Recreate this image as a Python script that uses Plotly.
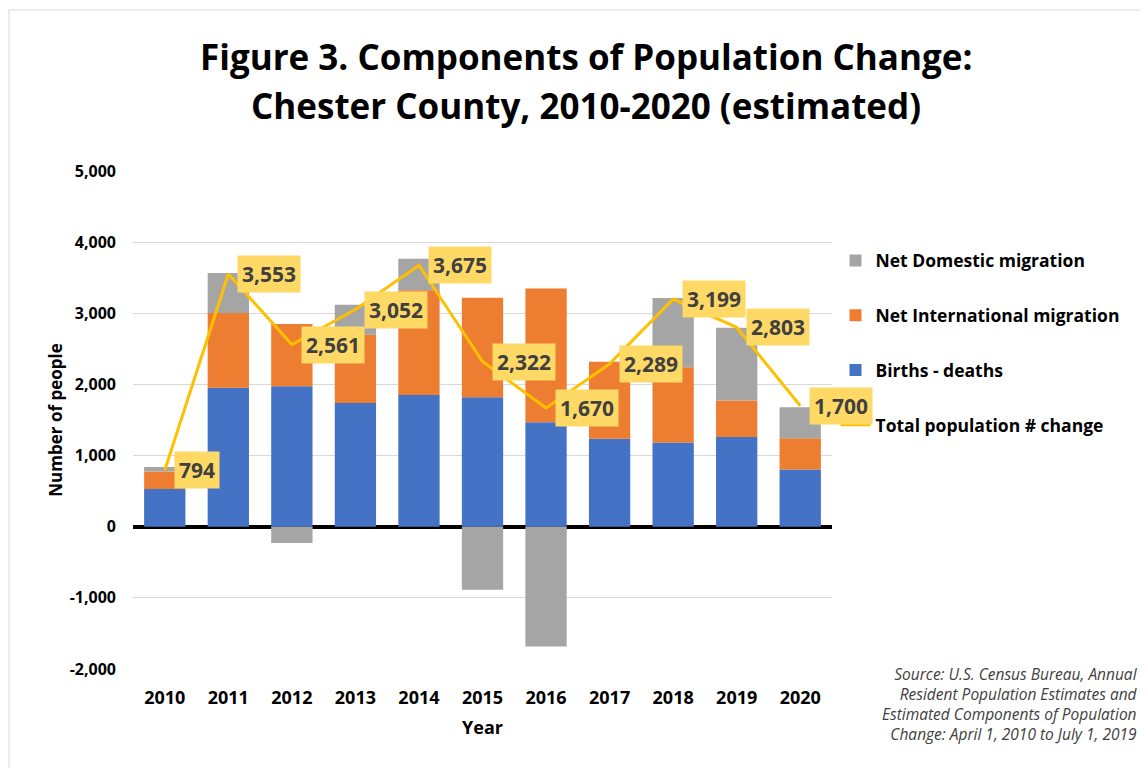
import plotly.graph_objects as go

years = [2010, 2011, 2012, 2013, 2014, 2015, 2016, 2017, 2018, 2019, 2020]
births_deaths = [530, 1955, 1975, 1740, 1850, 1820, 1470, 1235, 1185, 1260, 805]
net_international = [245, 1050, 875, 960, 1475, 1400, 1880, 1085, 1055, 515, 440]
net_domestic = [65, 560, -230, 420, 440, -885, -1685, 0, 975, 1020, 435]
total_change = [794, 3553, 2561, 3052, 3675, 2322, 1670, 2289, 3199, 2803, 1700]
y_ticks = [-2000, -1000, 0, 1000, 2000, 3000, 4000, 5000]
y_tick_labels = ["-2,000", "-1,000", "0", "1,000", "2,000", "3,000", "4,000", "5,000"]
title_lines = ["Figure 3. Components of Population Change:", "Chester County, 2010-2020 (estimated)"]
source_text = ("Source: U.S. Census Bureau, Annual<br>Resident Population Estimates and<br>"
               "Estimated Components of Population<br>Change: April 1, 2010 to July 1, 2019")

FONT = "Open Sans"
BLUE = "#4472C4"
ORANGE = "#ED7D31"
GRAY = "#A5A5A5"
GOLD = "#FFC000"
LABEL_BG = "#FFD966"

fig = go.Figure()
fig.add_trace(go.Bar(x=years, y=births_deaths, name="Births - deaths",
                     marker=dict(color=BLUE, line=dict(width=0)), legendrank=3, legendgroup="c"))
fig.add_trace(go.Bar(x=years, y=net_international, name="Net International migration",
                     marker=dict(color=ORANGE, line=dict(width=0)), legendrank=2, legendgroup="b"))
fig.add_trace(go.Bar(x=years, y=net_domestic, name="Net Domestic migration",
                     marker=dict(color=GRAY, line=dict(width=0)), legendrank=1, legendgroup="a"))
fig.add_trace(go.Scatter(x=years, y=total_change, name="Total population # change",
                         mode="lines", line=dict(color=GOLD, width=3), legendrank=4, legendgroup="d"))

for yr, v in zip(years, total_change):
    fig.add_annotation(x=yr, y=v, xref="x", yref="y", text=f"{v:,}", showarrow=False,
                       xanchor="left", yanchor="middle", xshift=9, bgcolor=LABEL_BG, borderpad=4,
                       font=dict(family=FONT, size=21, color="#404040", weight="bold"))

# title (two lines, centred)
for txt, yy in zip(title_lines, [1.229, 1.1325]):
    fig.add_annotation(xref="paper", yref="paper", x=0.648, y=yy, xanchor="center", yanchor="middle",
                       showarrow=False, text=f"<b>{txt}</b>",
                       font=dict(family=FONT, size=35, color="#000000"))

fig.add_annotation(xref="paper", yref="paper", x=1.4406, y=0.016, xanchor="right", yanchor="top",
                   align="right", showarrow=False, text=f"<i>{source_text}</i>",
                   font=dict(family=FONT, size=15.5, color="#404040"))

fig.update_layout(
    width=1140, height=760,
    paper_bgcolor="white", plot_bgcolor="white",
    margin=dict(l=125, r=316, t=163, b=99),
    barmode="relative", bargap=0.35,
    font=dict(family=FONT, color="#000000"),
    legend=dict(x=1.005, y=0.856, xanchor="left", yanchor="top", tracegroupgap=29,
                font=dict(family=FONT, size=17.5, color="#000000", weight="bold"),
                bgcolor="rgba(0,0,0,0)"),
    showlegend=True,
)
fig.update_xaxes(range=[2009.5, 2020.5], tickvals=years, showgrid=False, ticks="", showline=False,
                 zeroline=False, ticklabelstandoff=16,
                 tickfont=dict(family=FONT, size=18, color="#000000", weight="bold"),
                 title=dict(text="<b>Year</b>", font=dict(family=FONT, size=18, color="#000000"), standoff=13))
fig.update_yaxes(range=[-2000, 5000], tickvals=y_ticks, ticktext=y_tick_labels, showgrid=True,
                 gridcolor="#D9D9D9", gridwidth=1, zeroline=True, zerolinecolor="#000000", zerolinewidth=4,
                 showline=False, ticks="", ticklabelstandoff=16,
                 tickfont=dict(family=FONT, size=16, color="#000000", weight="bold"),
                 title=dict(text="<b>Number of people</b>", font=dict(family=FONT, size=17, color="#000000"),
                            standoff=2))

fig.add_shape(type="line", xref="paper", yref="paper", x0=-124/699, x1=1.5, y0=1 + 161/498, y1=1 + 161/498,
              line=dict(color="#D9D9D9", width=1))
fig.add_shape(type="line", xref="paper", yref="paper", x0=-124/699, x1=-124/699, y0=-0.3, y1=1 + 161/498,
              line=dict(color="#D9D9D9", width=1))

fig.write_html("out.html")
